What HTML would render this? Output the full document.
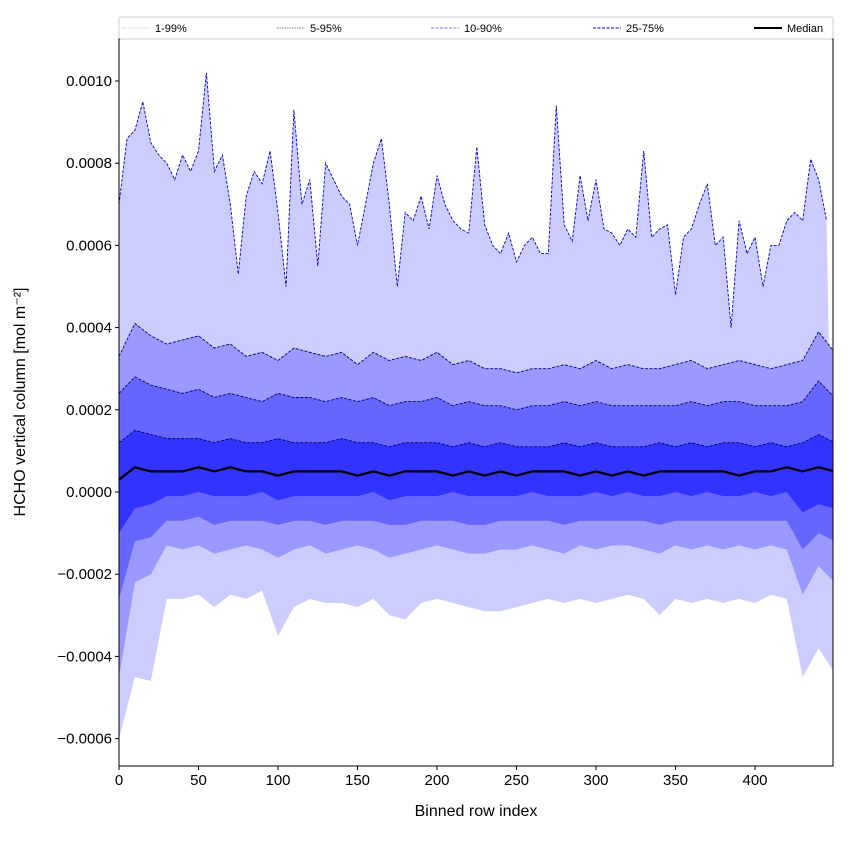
<!DOCTYPE html>
<html><head><meta charset="utf-8"><style>
body{margin:0;background:#fff;font-family:"Liberation Sans",sans-serif}
svg text{font-family:"Liberation Sans",sans-serif}
</style></head><body>
<svg id="c" width="850" height="850" xmlns="http://www.w3.org/2000/svg"></svg>
<script>
// values in units of 1e-4 mol m^-2
const xTop=[0,5,10,15,20,25,30,35,40,45,50,55,60,65,70,75,80,85,90,95,100,105,110,115,120,125,130,135,140,145,150,155,160,165,170,175,180,185,190,195,200,205,210,215,220,225,230,235,240,245,250,255,260,265,270,275,280,285,290,295,300,305,310,315,320,325,330,335,340,345,350,355,360,365,370,375,380,385,390,395,400,405,410,415,420,425,430,435,440,445];
const p99Upper=[7.0,8.6,8.8,9.5,8.5,8.2,8.0,7.6,8.2,7.8,8.3,10.2,7.8,8.2,7.0,5.3,7.2,7.8,7.5,8.3,6.8,5.0,9.3,7.0,7.6,5.5,8.0,7.6,7.2,7.0,6.0,7.0,8.0,8.6,7.0,5.0,6.8,6.6,7.2,6.4,7.7,7.0,6.6,6.4,6.3,8.4,6.5,6.0,5.8,6.3,5.6,6.0,6.2,5.8,5.8,9.4,6.5,6.1,7.7,6.6,7.6,6.4,6.3,6.0,6.4,6.2,8.3,6.2,6.4,6.5,4.8,6.2,6.4,7.0,7.5,6.0,6.2,4.0,6.6,5.8,6.2,5.0,6.0,6.0,6.6,6.8,6.6,8.1,7.6,6.6];
const xBand=[0,10,20,30,40,50,60,70,80,90,100,110,120,130,140,150,160,170,180,190,200,210,220,230,240,250,260,270,280,290,300,310,320,330,340,350,360,370,380,390,400,410,420,430,440,450];
const p1Lower=[-6.0,-4.5,-4.6,-2.6,-2.6,-2.5,-2.8,-2.5,-2.6,-2.4,-3.5,-2.8,-2.6,-2.7,-2.7,-2.8,-2.6,-3.0,-3.1,-2.7,-2.6,-2.7,-2.8,-2.9,-2.9,-2.8,-2.7,-2.6,-2.7,-2.6,-2.7,-2.6,-2.5,-2.6,-3.0,-2.6,-2.7,-2.6,-2.7,-2.6,-2.7,-2.5,-2.6,-4.5,-3.8,-4.4];
const p5Upper=[3.3,4.1,3.8,3.6,3.7,3.8,3.5,3.6,3.3,3.4,3.2,3.5,3.4,3.3,3.4,3.1,3.4,3.2,3.3,3.2,3.4,3.1,3.2,3.0,3.0,2.9,3.0,3.0,3.1,3.0,3.2,3.0,3.1,3.0,3.0,3.1,3.2,3.0,3.1,3.2,3.1,3.0,3.1,3.2,3.9,3.4];
const p5Lower=[-4.5,-2.2,-2.0,-1.3,-1.4,-1.3,-1.5,-1.4,-1.3,-1.4,-1.6,-1.4,-1.3,-1.5,-1.4,-1.3,-1.4,-1.6,-1.5,-1.4,-1.3,-1.4,-1.5,-1.5,-1.4,-1.4,-1.3,-1.4,-1.5,-1.3,-1.4,-1.3,-1.3,-1.4,-1.5,-1.3,-1.4,-1.3,-1.4,-1.3,-1.4,-1.3,-1.4,-2.5,-1.8,-2.2];
const p10Upper=[2.4,2.8,2.6,2.5,2.4,2.5,2.3,2.4,2.3,2.2,2.4,2.3,2.3,2.2,2.3,2.2,2.3,2.1,2.2,2.2,2.3,2.1,2.2,2.1,2.1,2.0,2.1,2.1,2.2,2.1,2.2,2.1,2.1,2.1,2.1,2.1,2.2,2.1,2.2,2.2,2.1,2.1,2.1,2.2,2.7,2.3];
const p10Lower=[-2.6,-1.2,-1.1,-0.7,-0.7,-0.6,-0.8,-0.7,-0.7,-0.7,-0.8,-0.7,-0.7,-0.8,-0.7,-0.7,-0.7,-0.8,-0.8,-0.7,-0.7,-0.7,-0.8,-0.8,-0.7,-0.7,-0.7,-0.7,-0.8,-0.7,-0.7,-0.7,-0.7,-0.7,-0.8,-0.7,-0.7,-0.7,-0.7,-0.7,-0.7,-0.7,-0.7,-1.4,-1.0,-1.2];
const p25Upper=[1.2,1.5,1.4,1.3,1.3,1.3,1.2,1.3,1.2,1.2,1.3,1.2,1.2,1.2,1.3,1.2,1.2,1.1,1.2,1.2,1.2,1.1,1.2,1.1,1.2,1.1,1.1,1.1,1.2,1.1,1.2,1.1,1.1,1.1,1.2,1.1,1.2,1.1,1.2,1.2,1.1,1.2,1.1,1.2,1.4,1.2];
const p25Lower=[-1.0,-0.4,-0.3,-0.1,-0.1,0.0,-0.1,-0.1,-0.1,0.0,-0.2,-0.1,-0.1,-0.1,-0.1,-0.1,0.0,-0.2,-0.1,-0.1,-0.1,0.0,-0.1,-0.1,-0.1,-0.1,0.0,-0.1,-0.1,-0.1,0.0,-0.1,0.0,-0.1,-0.1,0.0,-0.1,0.0,-0.1,-0.1,0.0,-0.1,0.0,-0.5,-0.3,-0.4];
const median=[0.3,0.6,0.5,0.5,0.5,0.6,0.5,0.6,0.5,0.5,0.4,0.5,0.5,0.5,0.5,0.4,0.5,0.4,0.5,0.5,0.5,0.4,0.5,0.4,0.5,0.4,0.5,0.5,0.5,0.4,0.5,0.4,0.5,0.4,0.5,0.5,0.5,0.5,0.5,0.4,0.5,0.5,0.6,0.5,0.6,0.5];
const xTicks=[0,50,100,150,200,250,300,350,400];
const yTicks=[-6,-4,-2,0,2,4,6,8,10];
const yTickLabels=["\u22120.0006","\u22120.0004","\u22120.0002","0.0000","0.0002","0.0004","0.0006","0.0008","0.0010"];

const L=119,R=833,T=39,B=766;
const X=v=>L+v*1.59, Y=v=>492-v*41.1;
const svg=document.getElementById('c');
const NS='http://www.w3.org/2000/svg';
function mk(tag,at,parent){const e=document.createElementNS(NS,tag);for(const k in at)e.setAttribute(k,at[k]);(parent||svg).appendChild(e);return e;}
const defs=mk('defs',{});const cp=mk('clipPath',{id:'pc'},defs);mk('rect',{x:L,y:T,width:R-L,height:B-T},cp);
const g=mk('g',{'clip-path':'url(#pc)'});
function pts(xs,ys){return xs.map((x,i)=>X(x).toFixed(1)+','+Y(ys[i]).toFixed(1));}
function band(xu,up,xl,lo,fill,name){const p=pts(xu,up).concat(pts(xl,lo).reverse());const e=mk('polygon',{points:p.join(' '),fill:fill},g);

}
function line(xs,ys,st,name){const e=mk('polyline',Object.assign({points:pts(xs,ys).join(' '),fill:'none'},st),g);

}
band(xTop,p99Upper,xBand,p1Lower,'#ccccff','band-1-99');
band(xBand,p5Upper,xBand,p5Lower,'#9999ff','band-5-95');
band(xBand,p10Upper,xBand,p10Lower,'#6666ff','band-10-90');
band(xBand,p25Upper,xBand,p25Lower,'#3333ff','band-25-75');
line(xTop,p99Upper,{stroke:'#0000cc','stroke-width':0.9,'stroke-dasharray':'3,1.5'},'line-99');
line(xBand,p5Upper,{stroke:'#000066','stroke-width':0.9,'stroke-dasharray':'3,1.5'},'line-95');
line(xBand,p10Upper,{stroke:'#000066','stroke-width':0.9,'stroke-dasharray':'3,1.5'},'line-90');
line(xBand,p25Upper,{stroke:'#000066','stroke-width':0.9,'stroke-dasharray':'3,1.5'},'line-75');
line(xBand,median,{stroke:'#000','stroke-width':2.2},'median-line');
mk('rect',{x:L,y:T,width:R-L,height:B-T,fill:'none',stroke:'#000','stroke-width':1,});
xTicks.forEach(t=>{mk('line',{x1:X(t),x2:X(t),y1:B,y2:B+4,stroke:'#000'});
const e=mk('text',{x:X(t),y:B+19,'font-size':15,'text-anchor':'middle'});e.textContent=t;

});
yTicks.forEach((t,i)=>{mk('line',{x1:L-4,x2:L,y1:Y(t),y2:Y(t),stroke:'#000'});
const e=mk('text',{x:L-7,y:Y(t)+5,'font-size':15,'text-anchor':'end'});e.textContent=yTickLabels[i];

});
let e=mk('text',{x:476,y:816,'font-size':16,'text-anchor':'middle',});e.textContent='Binned row index';
e=mk('text',{x:0,y:0,'font-size':16,'text-anchor':'middle',transform:'translate(25,402) rotate(-90)',});e.textContent='HCHO vertical column [mol m\u207B\u00B2]';
// legend
const lg=mk('g',{});
mk('rect',{x:119,y:17,width:714,height:22,fill:'#fff',stroke:'#ccc',rx:2},lg);
const leg=[[122,'1-99%','#bbbbdd','1,1',0.7],[277,'5-95%','#555577','1.5,1',0.7],[431,'10-90%','#7777dd','3,1.5',1],[593,'25-75%','#3333ff','3,1.5',1.2],[754,'Median','#000','',2]];
leg.forEach(l=>{const a={x1:l[0],x2:l[0]+28,y1:28,y2:28,stroke:l[2],'stroke-width':l[4]};if(l[3])a['stroke-dasharray']=l[3];mk('line',a,lg);
const t=mk('text',{x:l[0]+33,y:32,'font-size':11},lg);t.textContent=l[1];

});
</script>
</body></html>
